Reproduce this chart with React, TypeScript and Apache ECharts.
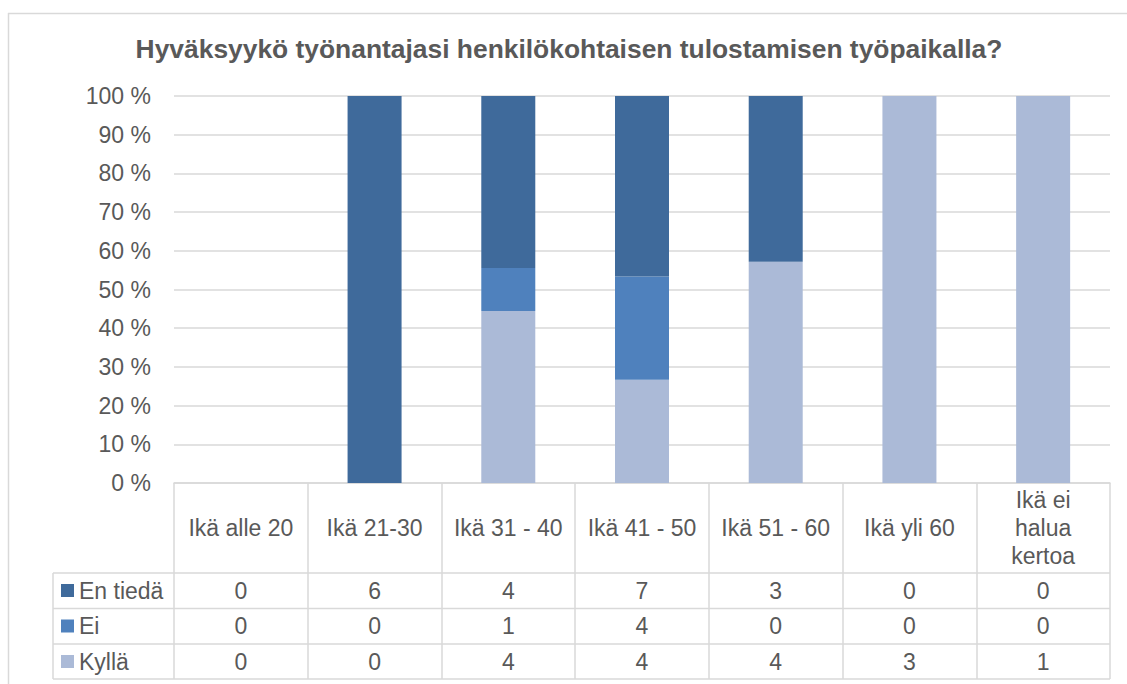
import React, { useEffect, useRef } from "react";
import * as echarts from "echarts";

const categories = ["Ikä alle 20", "Ikä 21-30", "Ikä 31 - 40", "Ikä 41 - 50", "Ikä 51 - 60", "Ikä yli 60", "Ikä ei halua kertoa"];
const categoryLabels = ["Ikä alle 20", "Ikä 21-30", "Ikä 31 - 40", "Ikä 41 - 50", "Ikä 51 - 60", "Ikä yli 60", "Ikä ei\nhalua\nkertoa"];
const enTieda = [0, 6, 4, 7, 3, 0, 0];
const ei = [0, 0, 1, 4, 0, 0, 0];
const kylla = [0, 0, 4, 4, 4, 3, 1];
const yTicks = { min: 0, max: 100, interval: 10 };

const TITLE = "Hyväksyykö työnantajasi henkilökohtaisen tulostamisen työpaikalla?";
const FONT = "'Liberation Sans', Arial, sans-serif";
const TEXT = "#595959";
const GRID = "#d9d9d9";

const totals = categories.map((_, i) => enTieda[i] + ei[i] + kylla[i]);
const pct = (arr: number[]) => arr.map((v, i) => (totals[i] ? (v / totals[i]) * 100 : 0));

export default function App() {
  const ref = useRef<HTMLDivElement>(null);
  useEffect(() => {
    if (!ref.current) return;
    const chart = echarts.init(ref.current, undefined, { renderer: "svg" });
    const W = 1127;
    const H = 684;
    const gridLeft = 174;
    const gridRight = 1110;
    const gridTop = 96;
    const axisY = 483;
    const rowLines = [573, 608.5, 644, 679];
    const rowCenters = [590.5, 626, 661.5];
    const tableLeft = 53;
    const rows = [
      { name: "En tiedä", data: enTieda },
      { name: "Ei", data: ei },
      { name: "Kyllä", data: kylla },
    ];
    const dataAxes = rows.map((r, k) => ({
      type: "category" as const,
      data: categories,
      position: "bottom" as const,
      gridIndex: 0,
      axisLine: { show: false },
      axisTick: { show: false },
      axisLabel: {
        interval: 0,
        margin: rowCenters[k] - axisY,
        verticalAlign: "middle" as const,
        fontSize: 23,
        fontFamily: FONT,
        color: TEXT,
        formatter: (_v: string, i: number) => String(r.data[i]),
      },
    }));
    const lineStyle = { stroke: GRID, lineWidth: 1.5 };
    chart.setOption({
      animation: false,
      textStyle: { fontFamily: FONT },
      grid: { left: gridLeft, right: W - gridRight, top: gridTop, bottom: H - axisY },
      legend: {
        orient: "vertical",
        left: 61,
        top: rowCenters[0] - 11.5,
        padding: 0,
        itemWidth: 13,
        itemHeight: 13,
        itemGap: 12.5,
        icon: "rect",
        selectedMode: false,
        data: ["En tiedä", "Ei", "Kyllä"],
        textStyle: { fontSize: 23, lineHeight: 23, color: TEXT, fontFamily: FONT },
      },
      xAxis: [
        {
          type: "category",
          data: categories,
          axisLine: { show: true, lineStyle: { color: GRID, width: 1.5 } },
          axisTick: { show: true, interval: 0, length: rowLines[3] - axisY, lineStyle: { color: GRID, width: 1.5 } },
          axisLabel: {
            interval: 0,
            margin: 45,
            verticalAlign: "middle",
            align: "center",
            fontSize: 23,
            lineHeight: 28,
            fontFamily: FONT,
            color: TEXT,
            formatter: (_v: string, i: number) => categoryLabels[i],
          },
        },
        ...dataAxes,
      ],
      yAxis: {
        type: "value",
        min: yTicks.min,
        max: yTicks.max,
        interval: yTicks.interval,
        axisLine: { show: false },
        axisTick: { show: false },
        axisLabel: { formatter: "{value} %", fontSize: 23, color: TEXT, fontFamily: FONT, margin: 23 },
        splitLine: { lineStyle: { color: GRID, width: 1.5 } },
      },
      series: [
        { name: "Kyllä", type: "bar", stack: "s", barWidth: 54, data: pct(kylla), itemStyle: { color: "#abbad7" }, xAxisIndex: 0 },
        { name: "Ei", type: "bar", stack: "s", barWidth: 54, data: pct(ei), itemStyle: { color: "#4f81bd" }, xAxisIndex: 0 },
        { name: "En tiedä", type: "bar", stack: "s", barWidth: 54, data: pct(enTieda), itemStyle: { color: "#3f6a9b" }, xAxisIndex: 0 },
      ],
      graphic: [
        { type: "line", shape: { x1: 8.5, y1: 13, x2: 8.5, y2: H }, style: lineStyle, silent: true },
        { type: "line", shape: { x1: 8, y1: 13.5, x2: W, y2: 13.5 }, style: lineStyle, silent: true },
        ...rowLines.map((y) => ({
          type: "line",
          shape: { x1: tableLeft, y1: y, x2: gridRight, y2: y },
          style: lineStyle,
          silent: true,
        })),
        { type: "line", shape: { x1: tableLeft, y1: rowLines[0], x2: tableLeft, y2: rowLines[3] }, style: lineStyle, silent: true },
        {
          type: "text",
          x: 569,
          y: 48.5,
          style: { text: TITLE, fontSize: 26.4, fontWeight: "bold", fill: TEXT, fontFamily: FONT, align: "center", verticalAlign: "middle" },
          silent: true,
        },
      ],
    });
    return () => chart.dispose();
  }, []);
  return <div ref={ref} style={{ width: 1127, height: 684, position: "absolute", left: 0, top: 0 }} />;
}
